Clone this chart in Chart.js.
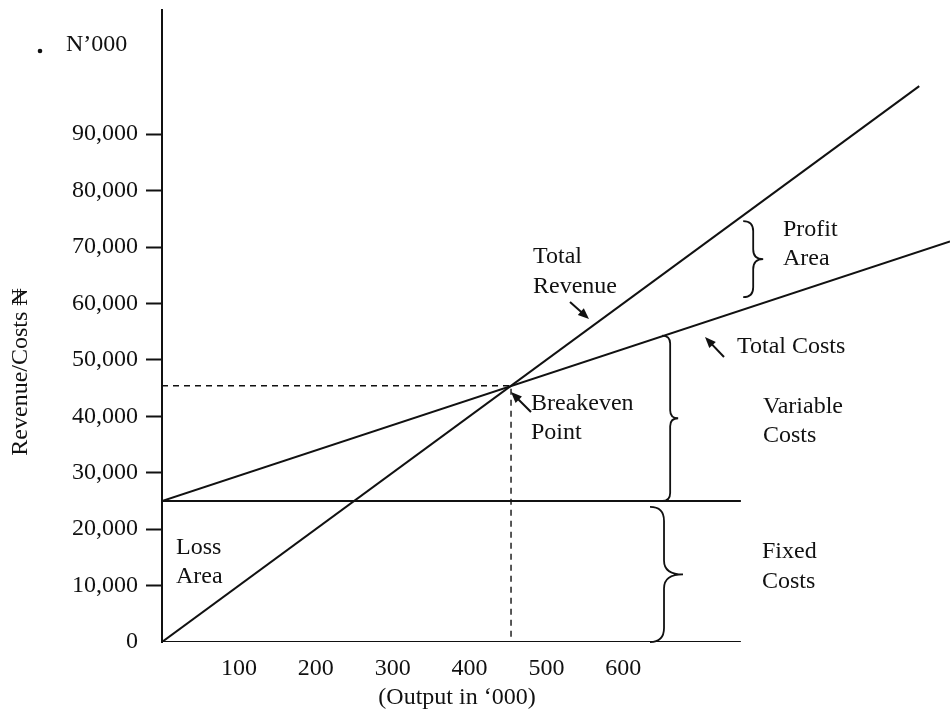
<!DOCTYPE html>
<html><head><meta charset="utf-8">
<script src="https://cdn.jsdelivr.net/npm/chart.js@4"></script>
<style>html,body{margin:0;padding:0;background:#fff}</style>
</head><body>
<canvas id="c" width="950" height="711"></canvas>
<script>
// ---- data ----
const outputTicks = [100, 200, 300, 400, 500, 600];
const valueTicks = [0, 10000, 20000, 30000, 40000, 50000, 60000, 70000, 80000, 90000];
const revenueOutput = [0, 985];
const revenueValue = [0, 98500];
const costOutput = [0, 1025];
const costValue = [25000, 71000];
const fixedOutput = [0, 753];
const fixedValue = [25000, 25000];
const baseOutput = [0, 753];
const baseValue = [0, 0];
const breakevenOutput = [0, 454, 454];
const breakevenValue = [45400, 45400, 0];

const pts = (xs, ys) => xs.map((x, i) => ({x: x, y: ys[i]}));
const INK = '#111';
const FONT = '"Liberation Serif","DejaVu Serif",serif';
Chart.defaults.font.family = FONT;
Chart.defaults.color = INK;

function lineDs(data, extra) {
  return Object.assign({data: data, showLine: true, borderColor: INK, borderWidth: 2,
    pointRadius: 0, fill: false, tension: 0}, extra || {});
}

function arrow(ctx, x1, y1, x2, y2) {
  const a = Math.atan2(y2 - y1, x2 - x1), L = 11, W = 4.5;
  ctx.beginPath(); ctx.moveTo(x1, y1);
  ctx.lineTo(x2 - Math.cos(a) * L * 0.7, y2 - Math.sin(a) * L * 0.7); ctx.stroke();
  ctx.beginPath(); ctx.moveTo(x2, y2);
  ctx.lineTo(x2 - Math.cos(a) * L - Math.sin(a) * W, y2 - Math.sin(a) * L + Math.cos(a) * W);
  ctx.lineTo(x2 - Math.cos(a) * L + Math.sin(a) * W, y2 - Math.sin(a) * L - Math.cos(a) * W);
  ctx.closePath(); ctx.fill();
}
function brace(ctx, x, y1, y2, w, r) {
  const ym = (y1 + y2) / 2;
  ctx.beginPath();
  ctx.moveTo(x - r, y1);
  ctx.quadraticCurveTo(x, y1, x, y1 + r);
  ctx.lineTo(x, ym - r);
  ctx.quadraticCurveTo(x, ym, x + w, ym);
  ctx.quadraticCurveTo(x, ym, x, ym + r);
  ctx.lineTo(x, y2 - r);
  ctx.quadraticCurveTo(x, y2, x - r, y2);
  ctx.stroke();
}

const annotate = {
  id: 'annotate',
  afterDraw(chart) {
    const ctx = chart.ctx, xs = chart.scales.x, ys = chart.scales.y;
    const X = v => xs.getPixelForValue(v), Y = v => ys.getPixelForValue(v);
    const rev = x => revenueValue[1] * x / revenueOutput[1];
    const cost = x => costValue[0] + (costValue[1] - costValue[0]) * x / costOutput[1];
    ctx.save();
    ctx.fillStyle = INK; ctx.strokeStyle = INK;
    ctx.font = '24px ' + FONT;
    ctx.textBaseline = 'middle'; ctx.textAlign = 'left';
    const T = (s, x, y) => ctx.fillText(s, x, y);
    T('N\u2019000', 66, 45);
    T('Total', 533, 257); T('Revenue', 533, 287);
    T('Breakeven', 531, 404); T('Point', 531, 433);
    T('Profit', 783, 230); T('Area', 783, 259);
    T('Total Costs', 737, 347);
    T('Variable', 763, 407); T('Costs', 763, 436);
    T('Fixed', 762, 552); T('Costs', 762, 582);
    T('Loss', 176, 548); T('Area', 176, 577);
    ctx.textAlign = 'center';
    T('(Output in \u2018000)', 457, 698);
    ctx.save();
    ctx.translate(21, 372); ctx.rotate(-Math.PI / 2);
    T('Revenue/Costs \u20A6', 0, 0);
    ctx.restore();
    // small dot left of unit label
    ctx.beginPath(); ctx.arc(40, 51, 2.3, 0, Math.PI * 2); ctx.fill();
    // arrows
    ctx.lineWidth = 2;
    arrow(ctx, 570, 302, 589, 319);
    arrow(ctx, 724, 357, 705, 337);
    arrow(ctx, 531, 412, 511, 392);
    // braces
    ctx.lineWidth = 1.8;
    const xp = 769;
    brace(ctx, X(xp), Y(rev(xp)) + 13, Y(cost(xp)) - 9, 10, 10);
    const xv = 661;
    brace(ctx, X(xv), Y(cost(xv)) + 2, Y(fixedValue[0]), 8, 8);
    const xf = 653;
    brace(ctx, X(xf), Y(fixedValue[0]) + 6, Y(0), 19, 14);
    ctx.restore();
  }
};

new Chart(document.getElementById('c'), {
  type: 'scatter',
  data: {
    datasets: [
      lineDs(pts(revenueOutput, revenueValue)),
      lineDs(pts(costOutput, costValue)),
      lineDs(pts(fixedOutput, fixedValue)),
      lineDs(pts(baseOutput, baseValue)),
      lineDs(pts(breakevenOutput, breakevenValue), {borderWidth: 1.4, borderDash: [6, 5]})
    ]
  },
  options: {
    responsive: false, animation: false,
    layout: {padding: {top: 10, right: 0, left: 0, bottom: 0}},
    plugins: {legend: {display: false}, tooltip: {enabled: false}},
    scales: {
      x: {
        type: 'linear', min: 0, max: 1025,
        afterFit(s) { s.height = 69; s.paddingLeft = 0; s.paddingRight = 0; },
        afterBuildTicks(s) { s.ticks = outputTicks.map(v => ({value: v})); },
        border: {display: false},
        grid: {display: false, drawTicks: false},
        ticks: {padding: 12, font: {size: 24}, color: INK, maxRotation: 0, autoSkip: false}
      },
      y: {
        type: 'linear', min: 0, max: 112000,
        afterFit(s) { s.width = 162; s.paddingTop = 0; s.paddingBottom = 0; },
        afterBuildTicks(s) { s.ticks = valueTicks.map(v => ({value: v})); },
        border: {display: true, color: INK, width: 2},
        grid: {drawOnChartArea: false, drawTicks: true, tickLength: 16,
          tickColor: c => (c.tick && c.tick.value === 0) ? 'rgba(0,0,0,0)' : INK, tickWidth: 2},
        ticks: {padding: 8, font: {size: 24}, color: INK, autoSkip: false,
          callback: v => v.toLocaleString('en-US')}
      }
    }
  },
  plugins: [annotate]
});
</script>
</body></html>
